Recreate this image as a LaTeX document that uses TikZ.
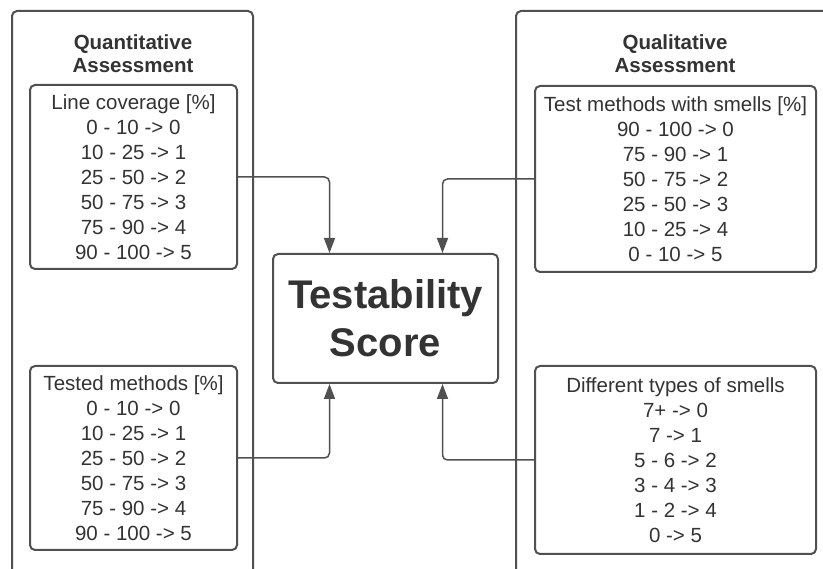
\documentclass[tikz,border=0pt]{standalone}
\usepackage{fontspec}
\setmainfont{Liberation Sans}
\usetikzlibrary{arrows.meta}
\definecolor{linegray}{HTML}{505050}
\definecolor{textgray}{HTML}{333333}
\tikzset{
  frame/.style={draw=linegray, line width=2pt, rounded corners=5pt},
  metricbox/.style={draw=linegray, line width=2pt, rounded corners=5pt, inner sep=0pt,
    align=center, text=textgray, font=\fontsize{20.5}{25}\selectfont},
  header/.style={align=center, text=textgray, font=\fontsize{20.5}{23}\selectfont\bfseries},
  scorebox/.style={draw=linegray, line width=2pt, rounded corners=5pt, inner sep=0pt,
    align=center, text=textgray, font=\fontsize{40}{48}\selectfont\bfseries,
    minimum width=225pt, minimum height=129pt},
  conn/.style={draw=linegray, line width=1.5pt, rounded corners=5pt,
    -{Triangle[length=15pt,width=11pt]}}
}
\begin{document}
\begin{tikzpicture}[x=1pt,y=-1pt]
\useasboundingbox (0,0) rectangle (823,569);
\clip (0,0) rectangle (823,569);
\fill[white] (0,0) rectangle (823,569);

% group frames, open at the bottom / right
\draw[frame] (12,590) -- (12,11) -- (253,11) -- (253,590);
\draw[frame] (516,590) -- (516,11) -- (840,11);

\node[header] (qthead) at (133,54) {Quantitative\\Assessment};
\node[header] (qlhead) at (675,54) {Qualitative\\Assessment};

% metric boxes
\node[metricbox, minimum width=207pt, minimum height=184pt] (lc) at (133.5,177)
  {Line coverage [\%]\\0 - 10 -> 0\\10 - 25 -> 1\\25 - 50 -> 2\\50 - 75 -> 3\\75 - 90 -> 4\\90 - 100 -> 5};
\node[metricbox, minimum width=207pt, minimum height=184pt] (tm) at (133.5,458)
  {Tested methods [\%]\\0 - 10 -> 0\\10 - 25 -> 1\\25 - 50 -> 2\\50 - 75 -> 3\\75 - 90 -> 4\\90 - 100 -> 5};
\node[metricbox, minimum width=281pt, minimum height=186pt] (sm) at (675.5,179)
  {Test methods with smells [\%]\\90 - 100 -> 0\\75 - 90 -> 1\\50 - 75 -> 2\\25 - 50 -> 3\\10 - 25 -> 4\\0 - 10 -> 5};
\node[metricbox, minimum width=281pt, minimum height=188pt] (ty) at (675.5,460)
  {Different types of smells\\7+ -> 0\\7 -> 1\\5 - 6 -> 2\\3 - 4 -> 3\\1 - 2 -> 4\\0 -> 5};

% central score
\node[scorebox] (score) at (385.5,318.5) {Testability\\Score};

% connectors into the score
\draw[conn] (lc.east) -| ([xshift=-56pt]score.north);
\draw[conn] (sm.west) -| ([xshift=57pt]score.north);
\draw[conn] (tm.east) -| ([xshift=-56pt]score.south);
\draw[conn] (ty.west) -| ([xshift=57pt]score.south);
\end{tikzpicture}
\end{document}
